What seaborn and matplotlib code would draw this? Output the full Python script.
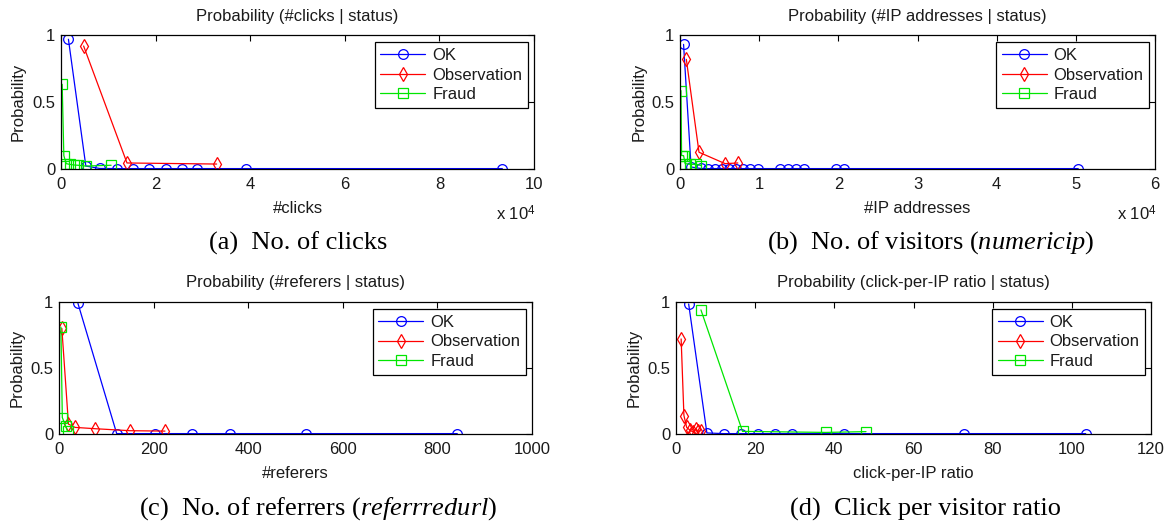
import matplotlib
matplotlib.use("Agg")
import matplotlib.pyplot as plt
import seaborn as sns
from matplotlib.ticker import FuncFormatter, FixedLocator
from matplotlib.lines import Line2D

# ---------------- data ----------------
series_names = ["OK", "Observation", "Fraud"]

# (a) #clicks
a_ok_x = [1570, 5250, 8200, 11800, 15250, 18600, 22100, 25500, 28800, 39100, 93300]
a_ok_y = [0.968, 0.022, 0.004, 0.003, 0.003, 0.003, 0.003, 0.003, 0.003, 0.003, 0.003]
a_obs_x = [4780, 13950, 32900]
a_obs_y = [0.918, 0.045, 0.037]
a_fr_x = [250, 600, 1100, 1800, 2700, 3600, 5200, 10600]
a_fr_y = [0.632, 0.10, 0.04, 0.035, 0.03, 0.028, 0.022, 0.028]

# (b) #IP addresses
b_ok_x = [450, 1400, 2600, 3500, 4400, 5300, 6200, 7100, 8000, 8900, 9900,
          12600, 13600, 14600, 15600, 19700, 20700, 50300]
b_ok_y = [0.93, 0.015, 0.004, 0.003, 0.003, 0.003, 0.003, 0.003, 0.003, 0.003,
          0.003, 0.003, 0.003, 0.003, 0.003, 0.003, 0.003, 0.003]
b_obs_x = [800, 2400, 5700, 7300]
b_obs_y = [0.818, 0.125, 0.04, 0.045]
b_fr_x = [120, 200, 450, 650, 1300, 2050, 2700]
b_fr_y = [0.585, 0.10, 0.10, 0.04, 0.035, 0.035, 0.025]

# (c) #referers
c_ok_x = [40, 122, 203, 281, 361, 522, 842]
c_ok_y = [0.99, 0.003, 0.003, 0.003, 0.003, 0.003, 0.003]
c_obs_x = [6, 20, 34, 77, 150, 224]
c_obs_y = [0.80, 0.075, 0.05, 0.04, 0.025, 0.022]
c_fr_x = [4, 7, 14, 18]
c_fr_y = [0.81, 0.125, 0.06, 0.02]

# (d) click-per-IP ratio
d_ok_x = [3.2, 7.8, 12.0, 16.3, 20.7, 25.0, 29.4, 42.5, 72.8, 103.5]
d_ok_y = [0.985, 0.008, 0.003, 0.003, 0.003, 0.003, 0.003, 0.003, 0.003, 0.003]
d_obs_x = [1.3, 2.0, 2.7, 3.5, 4.3, 5.0, 5.6, 6.2]
d_obs_y = [0.72, 0.14, 0.05, 0.03, 0.015, 0.04, 0.02, 0.025]
d_fr_x = [6.3, 16.8, 37.8, 48.0]
d_fr_y = [0.94, 0.02, 0.012, 0.018]

titles = ["Probability (#clicks | status)",
          "Probability (#IP addresses | status)",
          "Probability (#referers | status)",
          "Probability (click-per-IP ratio | status)"]
xlabels = ["#clicks", "#IP addresses", "#referers", "click-per-IP ratio"]
captions = ["(a)  No. of clicks",
            r"(b)  No. of visitors ($\mathit{numericip}$)",
            r"(c)  No. of referrers ($\mathit{referrredurl}$)",
            "(d)  Click per visitor ratio"]
x_ticks = [[0, 20000, 40000, 60000, 80000, 100000],
           [0, 10000, 20000, 30000, 40000, 50000, 60000],
           [0, 200, 400, 600, 800, 1000],
           [0, 20, 40, 60, 80, 100, 120]]
y_ticks = [0, 0.5, 1]

# ---------------- style ----------------
sns.set_style("white")
plt.rcParams["font.family"] = ["Liberation Sans", "DejaVu Sans"]
plt.rcParams["mathtext.fontset"] = "custom"
plt.rcParams["mathtext.rm"] = "Liberation Serif"
plt.rcParams["mathtext.it"] = "Liberation Serif:italic"
plt.rcParams["mathtext.sf"] = "Liberation Sans"

colors = {"OK": "#0000ff", "Observation": "#ff0000", "Fraud": "#00e600"}
markers = {"OK": "o", "Observation": "d", "Fraud": "s"}
msizes = {"OK": 7, "Observation": 7.5, "Fraud": 7}

W, H = 1169, 527
fig = plt.figure(figsize=(W / 100, H / 100), dpi=100)
fig.patch.set_facecolor("white")

TXT = "#1a1a1a"

# layout in pixels: left, right, top, bottom
boxes = [(61, 534, 35, 169), (680, 1155, 35, 169),
         (59, 532, 302, 434), (676, 1151, 302, 434)]
title_y = [17, 17, 283, 283]
caption_pos = [(298, 243), (931, 243), (318, 509), (926, 509)]
ylabel_x = [26, 647, 25, 642]   # right edge of the rotated y label

panel_data = [
    [(a_ok_x, a_ok_y), (a_obs_x, a_obs_y), (a_fr_x, a_fr_y)],
    [(b_ok_x, b_ok_y), (b_obs_x, b_obs_y), (b_fr_x, b_fr_y)],
    [(c_ok_x, c_ok_y), (c_obs_x, c_obs_y), (c_fr_x, c_fr_y)],
    [(d_ok_x, d_ok_y), (d_obs_x, d_obs_y), (d_fr_x, d_fr_y)],
]
sci = [True, True, False, False]

for i in range(4):
    l, r, t, b = boxes[i]
    ax = fig.add_axes([l / W, 1 - b / H, (r - l) / W, (b - t) / H])
    ax.set_facecolor("white")
    for name, (xs, ys) in zip(series_names, panel_data[i]):
        sns.lineplot(x=xs, y=ys, ax=ax, sort=False, estimator=None,
                     color=colors[name], linewidth=0.9,
                     marker=markers[name], markersize=msizes[name],
                     markerfacecolor="none", markeredgecolor=colors[name],
                     markeredgewidth=0.9, legend=False)
    ax.set_xlim(x_ticks[i][0], x_ticks[i][-1])
    ax.set_ylim(0, 1)
    ax.xaxis.set_major_locator(FixedLocator(x_ticks[i]))
    ax.yaxis.set_major_locator(FixedLocator(y_ticks))
    if sci[i]:
        ax.xaxis.set_major_formatter(FuncFormatter(lambda v, p: "%g" % (v / 1e4)))
    else:
        ax.xaxis.set_major_formatter(FuncFormatter(lambda v, p: "%g" % v))
    ax.yaxis.set_major_formatter(FuncFormatter(lambda v, p: "%g" % v))
    ax.tick_params(direction="in", top=True, right=True, length=4, width=0.8,
                   colors="black", labelcolor=TXT, labelsize=12, pad=4)
    ax.tick_params(axis="x", pad=6)
    for s in ax.spines.values():
        s.set_visible(True)
        s.set_color("black")
        s.set_linewidth(0.9)
    ax.set_xlabel(xlabels[i], fontsize=12, color=TXT, labelpad=6)
    ax.set_ylabel("Probability", fontsize=12, color=TXT)
    ax.yaxis.set_label_coords((ylabel_x[i] - l) / (r - l), 0.5)
    ax.grid(False)

    # legend
    handles = [Line2D([0], [0], color=colors[n], lw=0.9, marker=markers[n],
                      markersize=msizes[n], markerfacecolor="none",
                      markeredgecolor=colors[n], markeredgewidth=0.9)
               for n in series_names]
    w, h = r - l, b - t
    leg = ax.legend(handles, series_names, loc="upper right",
                    bbox_to_anchor=(1 - 6 / w, 1 - 7 / h), borderaxespad=0,
                    fontsize=12, frameon=True, fancybox=False, framealpha=1,
                    edgecolor="black", handlelength=2.7, handletextpad=0.4,
                    labelspacing=0.28, borderpad=0.35)
    leg.get_frame().set_linewidth(0.9)
    for tx in leg.get_texts():
        tx.set_color(TXT)

    # title
    fig.text(((l + r) / 2) / W, 1 - title_y[i] / H, titles[i], ha="center",
             va="center", fontsize=12, color=TXT)
    # exponent label
    if sci[i]:
        fig.text((r + 2) / W, 1 - 214 / H, r"x 10$^{\mathsf{4}}$", ha="right",
                 va="center", fontsize=12, color=TXT)
    # caption
    cx, cy = caption_pos[i]
    fig.text(cx / W, 1 - cy / H, captions[i], ha="center", va="center",
             fontsize=19, family="Liberation Serif", color="black")

fig.savefig("out.png", dpi=100, facecolor="white")
